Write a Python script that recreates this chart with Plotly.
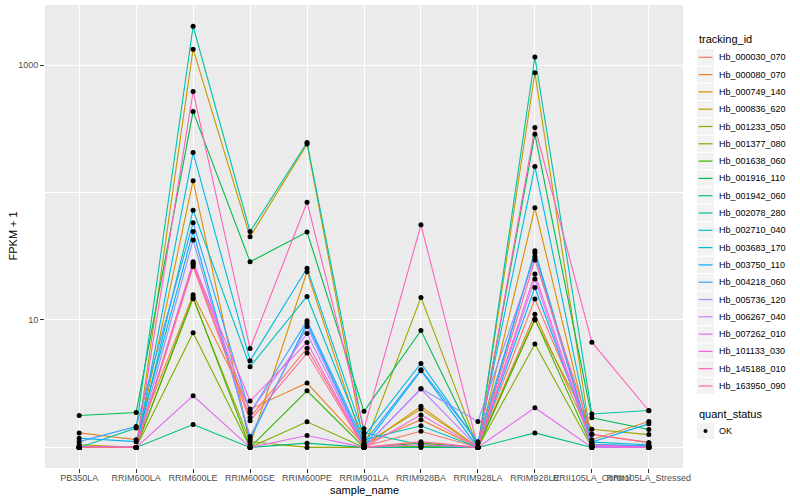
import plotly.graph_objects as go

samples = ["PB350LA", "RRIM600LA", "RRIM600LE", "RRIM600SE", "RRIM600PE",
           "RRIM901LA", "RRIM928BA", "RRIM928LA", "RRIM928LE",
           "RRII105LA_Control", "RRII105LA_Stressed"]

tracking_ids = ["Hb_000030_070", "Hb_000080_070", "Hb_000749_140", "Hb_000836_620",
                "Hb_001233_050", "Hb_001377_080", "Hb_001638_060", "Hb_001916_110",
                "Hb_001942_060", "Hb_002078_280", "Hb_002710_040", "Hb_003683_170",
                "Hb_003750_110", "Hb_004218_060", "Hb_005736_120", "Hb_006267_040",
                "Hb_007262_010", "Hb_101133_030", "Hb_145188_010", "Hb_163950_090"]

colors = ["#F8766D", "#EA8331", "#D89000", "#C09B00", "#A3A500", "#7CAE00", "#39B600",
          "#00BB4E", "#00BF7D", "#00C1A3", "#00BFC4", "#00BAE0", "#00B0F6", "#35A2FF",
          "#9590FF", "#C77CFF", "#E76BF3", "#FA62DB", "#FF62BC", "#FF6C91"]

# FPKM + 1 per sample (order of `samples`)
hb_000030_070 = [1.0, 1.0, 27.4, 1.72, 6.0, 1.02, 1.34, 1.0, 14.6, 1.27, 1.09]
hb_000080_070 = [1.30, 1.15, 15.8, 2.0, 3.2, 1.05, 1.65, 1.0, 11.1, 1.15, 1.6]
hb_000749_140 = [1.0, 1.0, 124, 1.05, 23.9, 1.02, 2.1, 1.0, 76, 1.05, 1.0]
hb_000836_620 = [1.05, 1.0, 1334, 45, 240, 1.05, 2.0, 1.0, 870, 1.05, 1.02]
hb_001233_050 = [1.0, 1.0, 14.7, 1.11, 1.0, 1.0, 15.0, 1.0, 10.0, 1.39, 1.26]
hb_001377_080 = [1.0, 1.0, 7.94, 1.0, 1.59, 1.0, 1.02, 1.0, 6.47, 1.0, 1.0]
hb_001638_060 = [1.0, 1.0, 15.1, 1.0, 2.78, 1.0, 1.08, 1.0, 10.2, 1.02, 1.0]
hb_001916_110 = [1.78, 1.88, 432, 28.6, 49, 1.92, 8.27, 1.0, 287, 1.71, 1.38]
hb_001942_060 = [1.0, 1.0, 1.51, 1.0, 1.08, 1.0, 1.0, 1.0, 1.30, 1.0, 1.0]
hb_002078_280 = [1.0, 1.42, 2020, 49.4, 247, 1.30, 1.05, 1.0, 1160, 1.83, 1.95]
hb_002710_040 = [1.0, 1.0, 72.8, 4.3, 15.3, 1.15, 1.48, 1.0, 35, 1.05, 1.03]
hb_003683_170 = [1.0, 1.0, 206, 4.79, 25.5, 1.22, 4.56, 1.08, 160, 1.1, 1.05]
hb_003750_110 = [1.18, 1.11, 49.4, 1.16, 9.46, 1.02, 4.0, 1.0, 18, 1.1, 1.53]
hb_004218_060 = [1.11, 1.46, 58, 1.86, 9.86, 1.09, 4.07, 1.11, 33.6, 1.05, 1.03]
hb_005736_120 = [1.0, 1.0, 42.4, 1.22, 8.9, 1.0, 2.9, 1.6, 31.3, 1.02, 1.0]
hb_006267_040 = [1.0, 1.0, 28.7, 1.9, 7.83, 1.0, 2.87, 1.0, 21, 1.0, 1.0]
hb_007262_010 = [1.0, 1.0, 2.54, 1.0, 1.24, 1.0, 1.05, 1.0, 2.05, 1.0, 1.0]
hb_101133_030 = [1.0, 1.0, 28.0, 2.31, 6.66, 1.0, 1.8, 1.0, 23, 1.05, 1.0]
hb_145188_010 = [1.0, 1.0, 620, 5.97, 84, 1.40, 55.8, 1.0, 324, 6.7, 1.94]
hb_163950_090 = [1.0, 1.0, 26.3, 1.62, 5.5, 1.0, 1.11, 1.0, 29.6, 1.27, 1.09]

series = [hb_000030_070, hb_000080_070, hb_000749_140, hb_000836_620, hb_001233_050,
          hb_001377_080, hb_001638_060, hb_001916_110, hb_001942_060, hb_002078_280,
          hb_002710_040, hb_003683_170, hb_003750_110, hb_004218_060, hb_005736_120,
          hb_006267_040, hb_007262_010, hb_101133_030, hb_145188_010, hb_163950_090]

FONT = "Liberation Sans, Arial, sans-serif"
W, H = 800, 500
ML, MR, MT, MB = 45, 117, 5, 32
PW, PH = W - ML - MR, H - MT - MB

def px(x):
    return (x - ML) / PW

def py(y):
    return (H - MB - y) / PH

fig = go.Figure()

for tid, col, vals in zip(tracking_ids, colors, series):
    fig.add_trace(go.Scatter(x=samples, y=vals, mode="lines", name=tid,
                             line=dict(color=col, width=1.1), showlegend=False))

all_x, all_y = [], []
for vals in series:
    all_x += samples
    all_y += vals
fig.add_trace(go.Scatter(x=all_x, y=all_y, mode="markers", name="OK",
                         marker=dict(color="black", size=5), showlegend=False))

shapes = []
annotations = []

# manual ggplot-style legend
annotations.append(dict(text="tracking_id", x=px(697), y=py(39), xref="paper", yref="paper",
                        xanchor="left", yanchor="middle", showarrow=False,
                        font=dict(family=FONT, size=11, color="black")))
for i, (tid, col) in enumerate(zip(tracking_ids, colors)):
    cy = 57.3 + 17.3 * i
    shapes.append(dict(type="rect", xref="paper", yref="paper",
                       x0=px(697), x1=px(714), y0=py(cy - 8.1), y1=py(cy + 8.1),
                       fillcolor="#F2F2F2", line=dict(width=0), layer="above"))
    shapes.append(dict(type="line", xref="paper", yref="paper",
                       x0=px(698.5), x1=px(712.5), y0=py(cy), y1=py(cy),
                       line=dict(color=col, width=1.2), layer="above"))
    annotations.append(dict(text=tid, x=px(717), y=py(cy), xref="paper", yref="paper",
                            xanchor="left", yanchor="middle", showarrow=False,
                            font=dict(family=FONT, size=9, color="black")))

annotations.append(dict(text="quant_status", x=px(697), y=py(414), xref="paper", yref="paper",
                        xanchor="left", yanchor="middle", showarrow=False,
                        font=dict(family=FONT, size=11, color="black")))
shapes.append(dict(type="rect", xref="paper", yref="paper",
                   x0=px(697), x1=px(714), y0=py(431 - 8.1), y1=py(431 + 8.1),
                   fillcolor="#F2F2F2", line=dict(width=0), layer="above"))
shapes.append(dict(type="circle", xref="paper", yref="paper",
                   x0=px(703.5), x1=px(707.5), y0=py(433), y1=py(429),
                   fillcolor="black", line=dict(width=0), layer="above"))
annotations.append(dict(text="OK", x=px(717), y=py(431), xref="paper", yref="paper",
                        xanchor="left", yanchor="middle", showarrow=False,
                        font=dict(family=FONT, size=9, color="black")))

# axis titles
annotations.append(dict(text="sample_name", x=0.5, y=py(490), xref="paper", yref="paper",
                        xanchor="center", yanchor="middle", showarrow=False,
                        font=dict(family=FONT, size=11, color="black")))
annotations.append(dict(text="FPKM + 1", x=px(12), y=0.5, xref="paper", yref="paper",
                        xanchor="center", yanchor="middle", showarrow=False, textangle=-90,
                        font=dict(family=FONT, size=11, color="black")))

fig.update_layout(
    width=W, height=H,
    margin=dict(l=ML, r=MR, t=MT, b=MB, pad=0, autoexpand=False),
    paper_bgcolor="white", plot_bgcolor="#EBEBEB",
    font=dict(family=FONT, size=9, color="#4D4D4D"),
    showlegend=False,
    shapes=shapes, annotations=annotations,
)
fig.update_xaxes(
    type="category", categoryorder="array", categoryarray=samples,
    range=[-0.6, len(samples) - 0.4], automargin=False,
    showgrid=True, gridcolor="white", gridwidth=1.1,
    zeroline=False, showline=False,
    ticks="outside", ticklen=4, tickcolor="#333333", tickwidth=1,
    ticklabelstandoff=-3,
    tickfont=dict(family=FONT, size=9, color="#4D4D4D"), tickangle=0,
)
fig.update_yaxes(
    type="log", range=[-0.1616, 3.472], automargin=False,
    tickvals=[10, 1000], ticktext=["10", "1000"],
    showgrid=True, gridcolor="white", gridwidth=1.1,
    minor=dict(tickvals=[1, 100], showgrid=True, gridcolor="white", gridwidth=0.55, ticks=""),
    zeroline=False, showline=False,
    ticks="outside", ticklen=4, tickcolor="#333333", tickwidth=1,
    tickfont=dict(family=FONT, size=9, color="#4D4D4D"),
)

fig.write_html("out.html", config={"displayModeBar": False},
               post_script="document.body.style.margin='0px';document.body.style.overflow='hidden';")
